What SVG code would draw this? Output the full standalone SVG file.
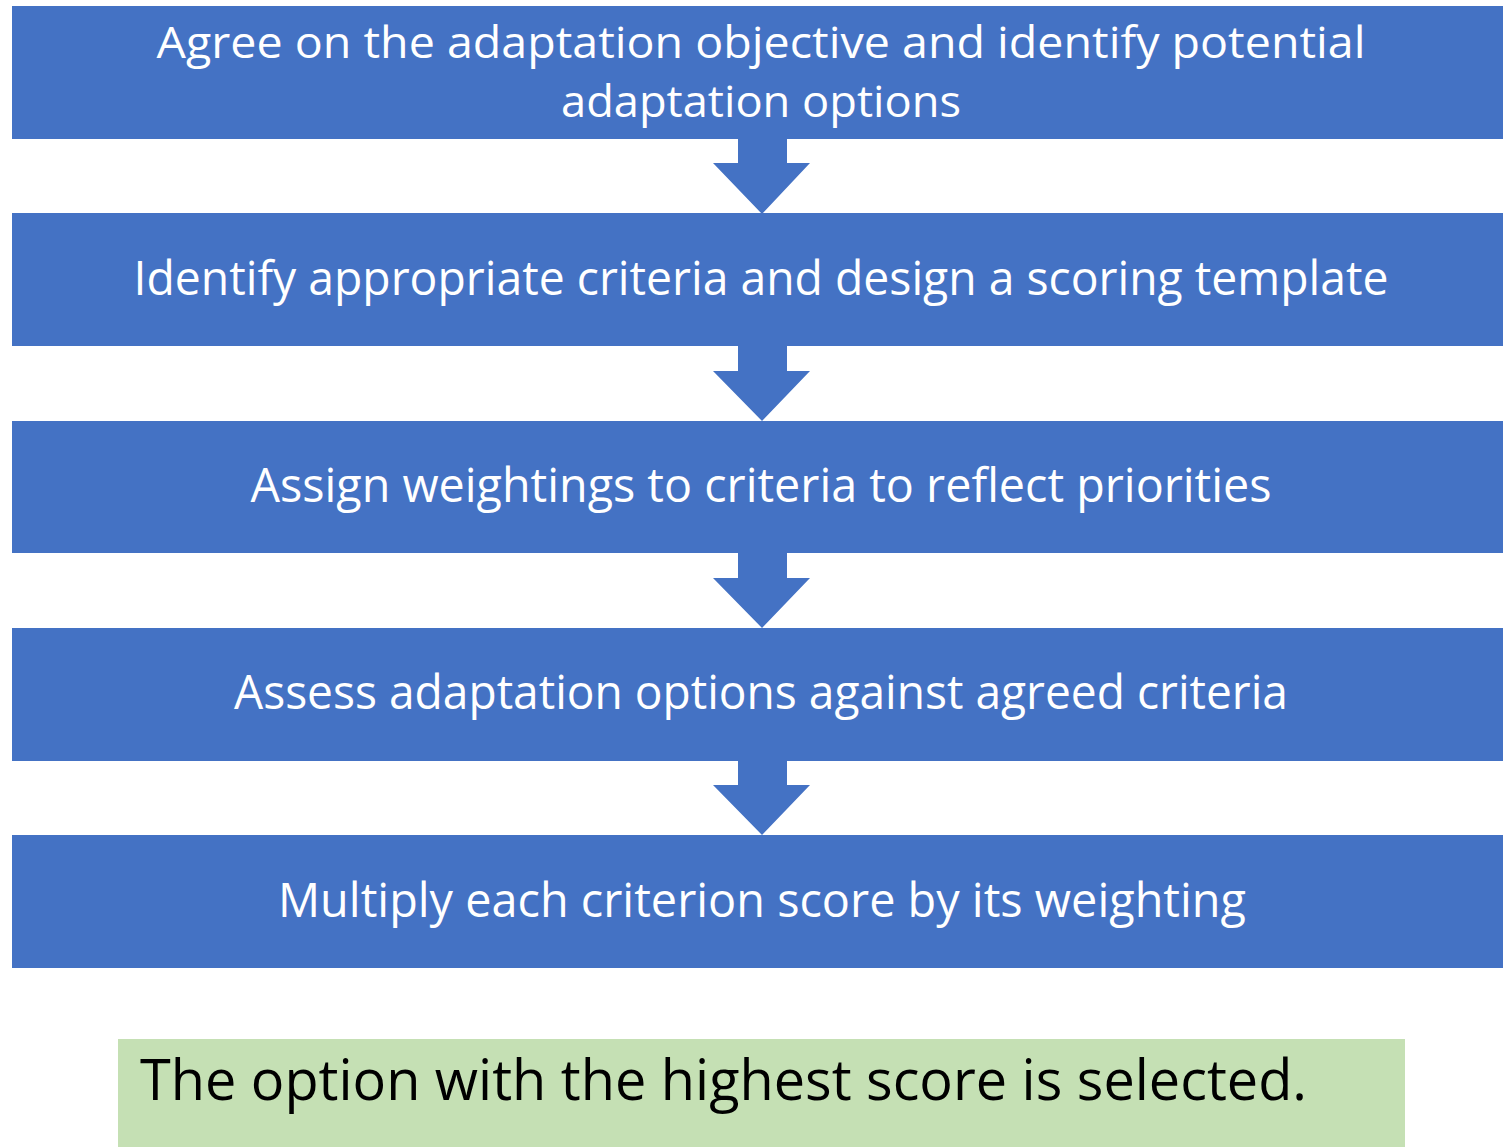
<svg xmlns="http://www.w3.org/2000/svg" width="1503" height="1147" viewBox="0 0 1503 1147">
  <defs>
    <style>
      .step { fill: #4472C4; }
      .arrow { fill: #4472C4; }
      .label { font-family: "Open Sans", "Noto Sans", sans-serif; font-size: 47px; fill: #FFFFFF; text-anchor: middle; }
      .label-two { font-size: 44px; }
      .result { fill: #C5E0B4; }
      .result-text { font-family: "Open Sans", "Noto Sans", sans-serif; font-size: 57px; fill: #000000; }
    </style>
  </defs>
  <rect width="1503" height="1147" fill="#FFFFFF"/>

  <!-- connectors: block arrows between steps -->
  <g id="connectors">
    <polygon class="arrow" points="738,139 787,139 787,163 810,163 762,214 713,163 738,163"/>
    <polygon class="arrow" points="738,346 787,346 787,371 810,371 762,421 713,371 738,371"/>
    <polygon class="arrow" points="738,553 787,553 787,578 810,578 762,628 713,578 738,578"/>
    <polygon class="arrow" points="738,761 787,761 787,785 810,785 762,835 713,785 738,785"/>
  </g>

  <g id="step1">
    <rect class="step" x="12" y="6" width="1491" height="133"/>
    <text class="label label-two" x="761" y="58" textLength="1209" lengthAdjust="spacingAndGlyphs">Agree on the adaptation objective and identify potential</text>
    <text class="label label-two" x="761" y="117" textLength="400" lengthAdjust="spacingAndGlyphs">adaptation options</text>
  </g>
  <g id="step2">
    <rect class="step" x="12" y="213" width="1491" height="133"/>
    <text class="label" x="761" y="295" textLength="1255" lengthAdjust="spacingAndGlyphs">Identify appropriate criteria and design a scoring template</text>
  </g>
  <g id="step3">
    <rect class="step" x="12" y="421" width="1491" height="132"/>
    <text class="label" x="761" y="502" textLength="1021" lengthAdjust="spacingAndGlyphs">Assign weightings to criteria to reflect priorities</text>
  </g>
  <g id="step4">
    <rect class="step" x="12" y="628" width="1491" height="133"/>
    <text class="label" x="761" y="709" textLength="1054" lengthAdjust="spacingAndGlyphs">Assess adaptation options against agreed criteria</text>
  </g>
  <g id="step5">
    <rect class="step" x="12" y="835" width="1491" height="133"/>
    <text class="label" x="762" y="917" textLength="968" lengthAdjust="spacingAndGlyphs">Multiply each criterion score by its weighting</text>
  </g>

  <g id="result">
    <rect class="result" x="118" y="1039" width="1287" height="108"/>
    <text class="result-text" x="140" y="1100" textLength="1167" lengthAdjust="spacingAndGlyphs">The option with the highest score is selected.</text>
  </g>
</svg>
